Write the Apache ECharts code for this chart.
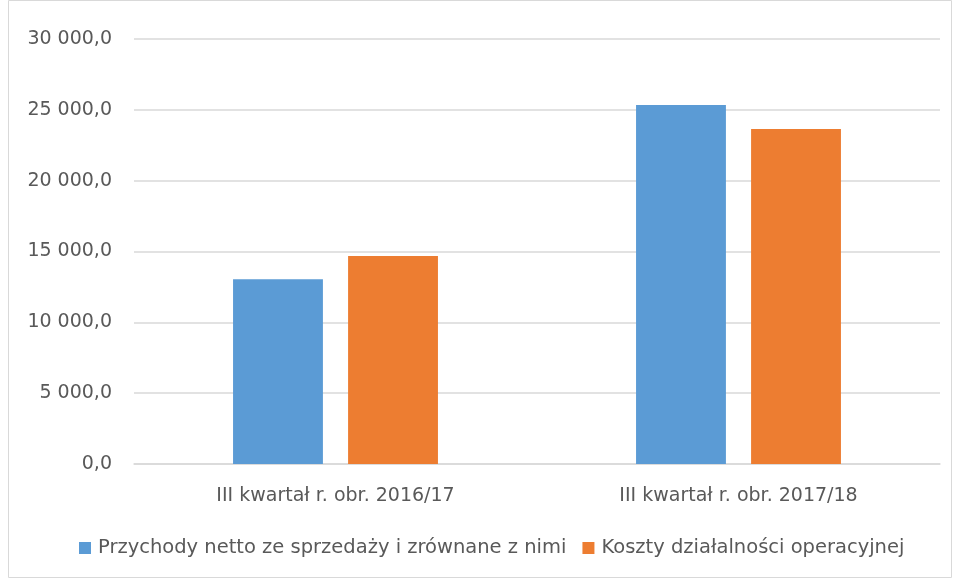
<!DOCTYPE html>
<html><head><meta charset="utf-8">
<script src="https://cdn.jsdelivr.net/npm/echarts@6/dist/echarts.min.js"></script>
<style>html,body{margin:0;padding:0;background:#fff}#c{width:958px;height:581px}</style>
</head><body><div id="c"></div>
<script>
const categories = ['III kwartał r. obr. 2016/17', 'III kwartał r. obr. 2017/18'];
const seriesNames = ['Przychody netto ze sprzedaży i zrównane z nimi', 'Koszty działalności operacyjnej'];
const revenue = [13040, 25350];
const costs = [14690, 23640];
const yTicks = [0, 5000, 10000, 15000, 20000, 25000, 30000];

function fmt(v){
  const s = v.toFixed(1).split('.');
  const int = s[0].replace(/\B(?=(\d{3})+(?!\d))/g, ' ');
  return int + ',' + s[1];
}
const font = 'DejaVu Sans';
const chart = echarts.init(document.getElementById('c'));
chart.setOption({
  animation: false,
  textStyle: {fontFamily: font},
  graphic: [{type:'rect', shape:{x:8.5,y:0.5,width:943,height:577}, style:{fill:'none', stroke:'#d9d9d9', lineWidth:1}, silent:true}],
  grid: {left:134, right:18, top:39, bottom:117},
  legend: {
    bottom: 18, left: 74, itemWidth: 12, itemHeight: 12, itemGap: 16,
    icon: 'rect',
    textStyle: {fontSize: 19.5, color: '#595959', fontFamily: font, padding: [0, 0, 0, 2]}
  },
  xAxis: {
    type: 'category', data: categories,
    axisLine: {lineStyle: {color: '#d9d9d9', width: 1.5}},
    axisTick: {show: false},
    axisLabel: {fontSize: 19, color: '#595959', margin: 23}
  },
  yAxis: {
    type: 'value', min: yTicks[0], max: yTicks[yTicks.length-1], interval: 5000,
    axisLine: {show: false}, axisTick: {show: false},
    splitLine: {lineStyle: {color: '#d9d9d9', width: 1.5}},
    axisLabel: {fontSize: 19, color: '#595959', margin: 22, formatter: v => fmt(v)}
  },
  series: [
    {name: seriesNames[0], type: 'bar', data: revenue, barWidth: '22.3%', barGap: '28%', itemStyle: {color: '#5b9bd5'}},
    {name: seriesNames[1], type: 'bar', data: costs, barWidth: '22.3%', barGap: '28%', itemStyle: {color: '#ed7d31'}}
  ]
});
</script></body></html>
